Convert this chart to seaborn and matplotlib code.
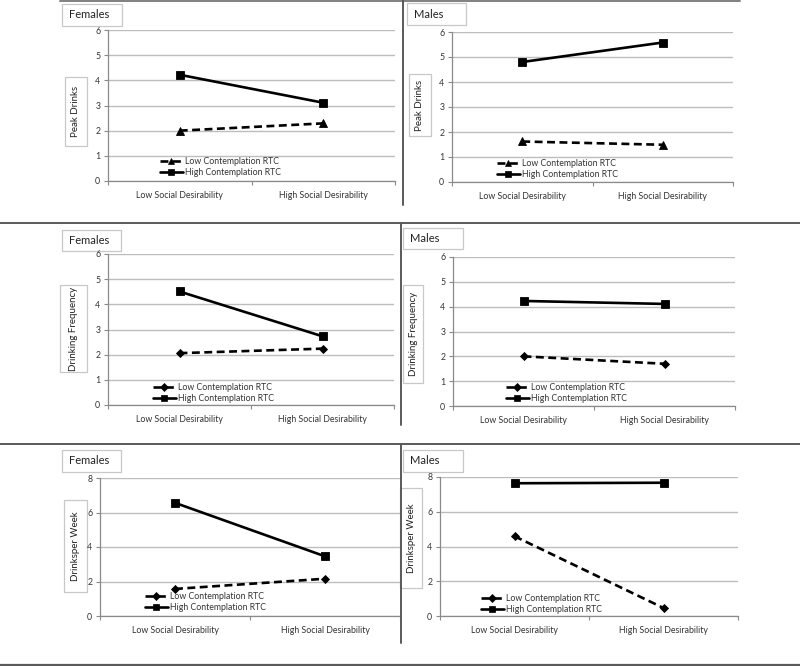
import numpy as np
import pandas as pd
import matplotlib
matplotlib.use("Agg")
import matplotlib.pyplot as plt
import seaborn as sns
from matplotlib.patches import Rectangle
from matplotlib.lines import Line2D

sns.set_theme(style="white")
plt.rcParams["font.family"] = ["Lato", "DejaVu Sans"]

# ---------------- data ----------------
categories = ["Low Social Desirability", "High Social Desirability"]
series_names = ["Low Contemplation RTC", "High Contemplation RTC"]
panel_titles = ["Females", "Males", "Females", "Males", "Females", "Males"]
y_labels = ["Peak Drinks", "Peak Drinks", "Drinking Frequency",
            "Drinking Frequency", "Drinksper Week", "Drinksper Week"]

peak_females_low = [2.00, 2.29]
peak_females_high = [4.22, 3.11]
peak_males_low = [1.62, 1.49]
peak_males_high = [4.80, 5.58]
freq_females_low = [2.06, 2.24]
freq_females_high = [4.51, 2.73]
freq_males_low = [2.00, 1.70]
freq_males_high = [4.23, 4.11]
week_females_low = [1.57, 2.16]
week_females_high = [6.56, 3.46]
week_males_low = [4.59, 0.46]
week_males_high = [7.64, 7.67]

panel_values = [
    (peak_females_low, peak_females_high),
    (peak_males_low, peak_males_high),
    (freq_females_low, freq_females_high),
    (freq_males_low, freq_males_high),
    (week_females_low, week_females_high),
    (week_males_low, week_males_high),
]
y_max = [6, 6, 6, 6, 8, 8]
y_step = [1, 1, 1, 1, 2, 2]
low_markers = ["^", "^", "D", "D", "D", "D"]

# ---------------- layout (pixels) ----------------
W, H = 800, 666
fig = plt.figure(figsize=(W / 100, H / 100), dpi=100)


def fx(x):
    return x / W


def fy(y):
    return 1 - y / H


axes_px = [  # left, top, right, bottom
    (108, 30, 395, 181),
    (452, 32, 733, 182),
    (108, 254, 394, 405),
    (453, 257, 735, 406),
    (100, 478, 400, 616),
    (440, 477, 738, 616),
]
title_px = [
    (62, 4, 122, 26), (407, 3, 466, 25),
    (62, 230, 121, 251), (403, 228, 463, 249),
    (62, 450, 121, 472), (403, 450, 463, 472),
]
ylab_px = [
    (65, 77, 87, 146), (409, 74, 431, 136),
    (60, 285, 87, 372), (403, 285, 423, 383),
    (64, 500, 87, 592), (400, 488, 422, 588),
]
legend_px = [  # left of handle, vertical centre of the two rows
    (160, 167), (497, 169), (153, 393), (506, 393), (145, 602), (481, 604),
]

grid_col = "#bdbdbd"
spine_col = "#8a8a8a"
box_col = "#c8c8c8"
tick_fs = 6.3
dash = (0, (3.0, 1.7))

for i in range(6):
    l, t, r, b = axes_px[i]
    ax = fig.add_axes([fx(l), fy(b), fx(r) - fx(l), fy(t) - fy(b)])
    ax.patch.set_visible(False)
    low, high = panel_values[i]
    df = pd.DataFrame({
        "cat": categories * 2,
        "val": list(low) + list(high),
        "series": [series_names[0]] * 2 + [series_names[1]] * 2,
    })
    sns.pointplot(data=df, x="cat", y="val", hue="series",
                  order=categories, hue_order=series_names,
                  palette=["black", "black"], markers=[low_markers[i], "s"],
                  linestyles=[dash, "-"], errorbar=None,
                  dodge=False, legend=False, linewidth=1.9,
                  ax=ax)
    for ln in ax.lines:
        m = ln.get_marker()
        ln.set_markeredgewidth(0.6)
        if m == "s":
            ln.set_markersize(6.2)
        elif m == "^":
            ln.set_markersize(6.2)
        elif m == "D":
            ln.set_markersize(4.4)

    ax.set_xlim(-0.5, 1.5)
    ax.set_ylim(0, y_max[i])
    ax.set_yticks(np.arange(0, y_max[i] + 0.1, y_step[i]))
    ax.yaxis.grid(True, color=grid_col, linewidth=1.0)
    ax.set_axisbelow(True)
    ax.xaxis.grid(False)
    for s in ["top", "right"]:
        ax.spines[s].set_visible(False)
    for s in ["left", "bottom"]:
        ax.spines[s].set_color(spine_col)
        ax.spines[s].set_linewidth(0.9)
    ax.set_xticks([-0.5, 0.5, 1.5])
    ax.set_xticklabels([])
    ax.set_xticks([0, 1], minor=True)
    ax.set_xticklabels(categories, minor=True, fontsize=tick_fs, color="#333333")
    ax.tick_params(axis="x", which="major", direction="out", length=3,
                   color=spine_col, width=0.8, bottom=True)
    ax.tick_params(axis="x", which="minor", length=0, pad=7, bottom=True)
    ax.tick_params(axis="y", direction="out", length=2.6, color=spine_col,
                   width=0.8, labelsize=tick_fs, labelcolor="#333333", pad=3,
                   left=True)
    ax.set_xlabel("")
    ax.set_ylabel("")

    handles = [
        Line2D([], [], color="black", linestyle=dash, linewidth=1.9,
               marker=low_markers[i], markersize=4.8 if low_markers[i] == "^" else 3.6,
               markeredgewidth=0.5),
        Line2D([], [], color="black", linestyle="-", linewidth=1.9,
               marker="s", markersize=4.8, markeredgewidth=0.5),
    ]
    lx, ly = legend_px[i]
    ax.legend(handles=handles, labels=series_names,
              loc="center left", bbox_to_anchor=(fx(lx), fy(ly)),
              bbox_transform=fig.transFigure, frameon=False, numpoints=1,
              fontsize=tick_fs, handlelength=2.6, handletextpad=0.25,
              borderpad=0, borderaxespad=0, labelspacing=0.3,
              labelcolor="#333333")

    # title box
    x0, y0, x1, y1 = title_px[i]
    fig.add_artist(Rectangle((fx(x0), fy(y1)), fx(x1) - fx(x0), fy(y0) - fy(y1),
                             transform=fig.transFigure, facecolor="white",
                             edgecolor=box_col, linewidth=0.9, zorder=-1))
    fig.text(fx(x0 + 7), fy((y0 + y1) / 2), panel_titles[i], fontsize=8,
             ha="left", va="center", color="#222222", zorder=-0.5)

    # y label box
    x0, y0, x1, y1 = ylab_px[i]
    fig.add_artist(Rectangle((fx(x0), fy(y1)), fx(x1) - fx(x0), fy(y0) - fy(y1),
                             transform=fig.transFigure, facecolor="white",
                             edgecolor=box_col, linewidth=0.9, zorder=-1))
    fig.text(fx((x0 + x1) / 2), fy((y0 + y1) / 2), y_labels[i], fontsize=7,
             rotation=90, ha="center", va="center", color="#222222",
             zorder=-0.5)

# separator lines
sep_col = "#5a5a5a"
for (xa, ya, xb, yb, lw, c) in [
    (60, 1, 740, 1, 1.4, "#808080"),
    (0, 223, 800, 223, 1.4, sep_col),
    (0, 444, 800, 444, 1.4, sep_col),
    (0, 665, 800, 665, 1.6, sep_col),
    (403, 0, 403, 205, 1.4, sep_col),
    (401, 223, 401, 425, 1.4, sep_col),
    (401, 444, 401, 643, 1.4, sep_col),
]:
    fig.add_artist(Line2D([fx(xa), fx(xb)], [fy(ya), fy(yb)],
                          transform=fig.transFigure, color=c, linewidth=lw))

fig.savefig("out.png", dpi=100)
